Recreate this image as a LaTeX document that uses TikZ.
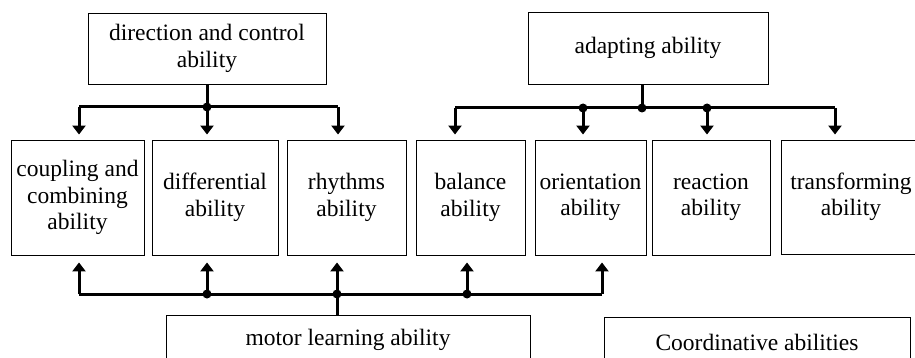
\documentclass[tikz,border=0pt]{standalone}
\usepackage{fontspec}
\setmainfont{Liberation Serif}
\usetikzlibrary{arrows.meta,positioning}

\begin{document}
\begin{tikzpicture}[x=1pt,y=-1pt]
			\tikzstyle{Box}	= [draw, line width=0.9pt, align=center, inner sep=0pt, font=\fontsize{23.5}{26.5}\selectfont]
			\tikzstyle{Bus}	= [line width=3pt]
			\tikzstyle{Arr}	= [line width=3pt, -{Triangle[width=13pt,length=9pt]}]
			\tikzstyle{Dot}	= [circle, fill=black, inner sep=0pt, minimum size=9pt]

			\useasboundingbox (0,0) rectangle (915,358);

			\node (dir) at (207,48.5) [Box, minimum width=238pt, minimum height=71pt] {direction and control\\ability};
			\node (adapt) at (648,48) [Box, minimum width=240pt, minimum height=72pt] {adapting ability};

			\node (coup) at (77.5,197.5) [Box, minimum width=133pt, minimum height=115pt] {coupling and\\combining\\ability};
			\node (diff) at (215,197.5) [Box, minimum width=126pt, minimum height=115pt] {differential\\ability};
			\node (rhy) at (346.5,197.5) [Box, minimum width=119pt, minimum height=115pt] {rhythms\\ability};
			\node (bal) at (470.5,197.5) [Box, minimum width=109pt, minimum height=115pt] {balance\\ability};
			\node (ori) at (590.5,197.5) [Box, minimum width=111pt, minimum height=115pt] {orientation\\ability};
			\node (rea) at (711,197.5) [Box, minimum width=118pt, minimum height=115pt] {reaction\\ability};
			\node (tra) at (851,197) [Box, minimum width=140pt, minimum height=114pt] {transforming\\ability};

			\node (motor) at (348,340) [Box, minimum width=364pt, minimum height=50pt] {motor learning ability};
			\node (coord) at (757,342) [Box, minimum width=306pt, minimum height=50pt] {Coordinative abilities};

			% direction and control
			\coordinate (dj) at (207,107);
			\coordinate (dl) at (79,107);
			\coordinate (dr) at (338,107);
			\draw [-] (dir) to (dj) [Bus];
			\draw [-] (dl) to (dr) [Bus];
			\draw (dl) -- (dl |- coup.north) [Arr, shorten >=5pt];
			\draw (dj) -- (dj |- diff.north) [Arr, shorten >=5pt];
			\draw (dr) -- (dr |- rhy.north) [Arr, shorten >=5pt];
			\node (djdot) at (dj) [Dot] {};

			% adapting
			\coordinate (aj) at (642,108);
			\coordinate (a1) at (455,108);
			\coordinate (a2) at (583,108);
			\coordinate (a3) at (707,108);
			\coordinate (a4) at (835,108);
			\draw [-] (aj |- adapt.south) to (aj) [Bus];
			\draw [-] (a1) to (a4) [Bus];
			\draw (a1) -- (a1 |- bal.north) [Arr, shorten >=5pt];
			\draw (a2) -- (a2 |- ori.north) [Arr, shorten >=5pt];
			\draw (a3) -- (a3 |- rea.north) [Arr, shorten >=5pt];
			\draw (a4) -- (a4 |- tra.north) [Arr, shorten >=5pt];
			\node (ajdot) at (aj) [Dot] {};
			\node (a2dot) at (a2) [Dot] {};
			\node (a3dot) at (a3) [Dot] {};

			% motor learning
			\coordinate (mj) at (337,294);
			\coordinate (m1) at (79,294);
			\coordinate (m2) at (207,294);
			\coordinate (m4) at (467,294);
			\coordinate (m5) at (602,294);
			\draw [-] (mj |- motor.north) to (mj) [Bus];
			\draw [-] (m1) to (m5) [Bus];
			\draw (m1) -- (m1 |- coup.south) [Arr, shorten >=7pt];
			\draw (m2) -- (m2 |- diff.south) [Arr, shorten >=7pt];
			\draw (mj) -- (mj |- rhy.south) [Arr, shorten >=7pt];
			\draw (m4) -- (m4 |- bal.south) [Arr, shorten >=7pt];
			\draw (m5) -- (m5 |- ori.south) [Arr, shorten >=7pt];
			\node (m2dot) at (m2) [Dot] {};
			\node (mjdot) at (mj) [Dot] {};
			\node (m4dot) at (m4) [Dot] {};
\end{tikzpicture}
\end{document}
